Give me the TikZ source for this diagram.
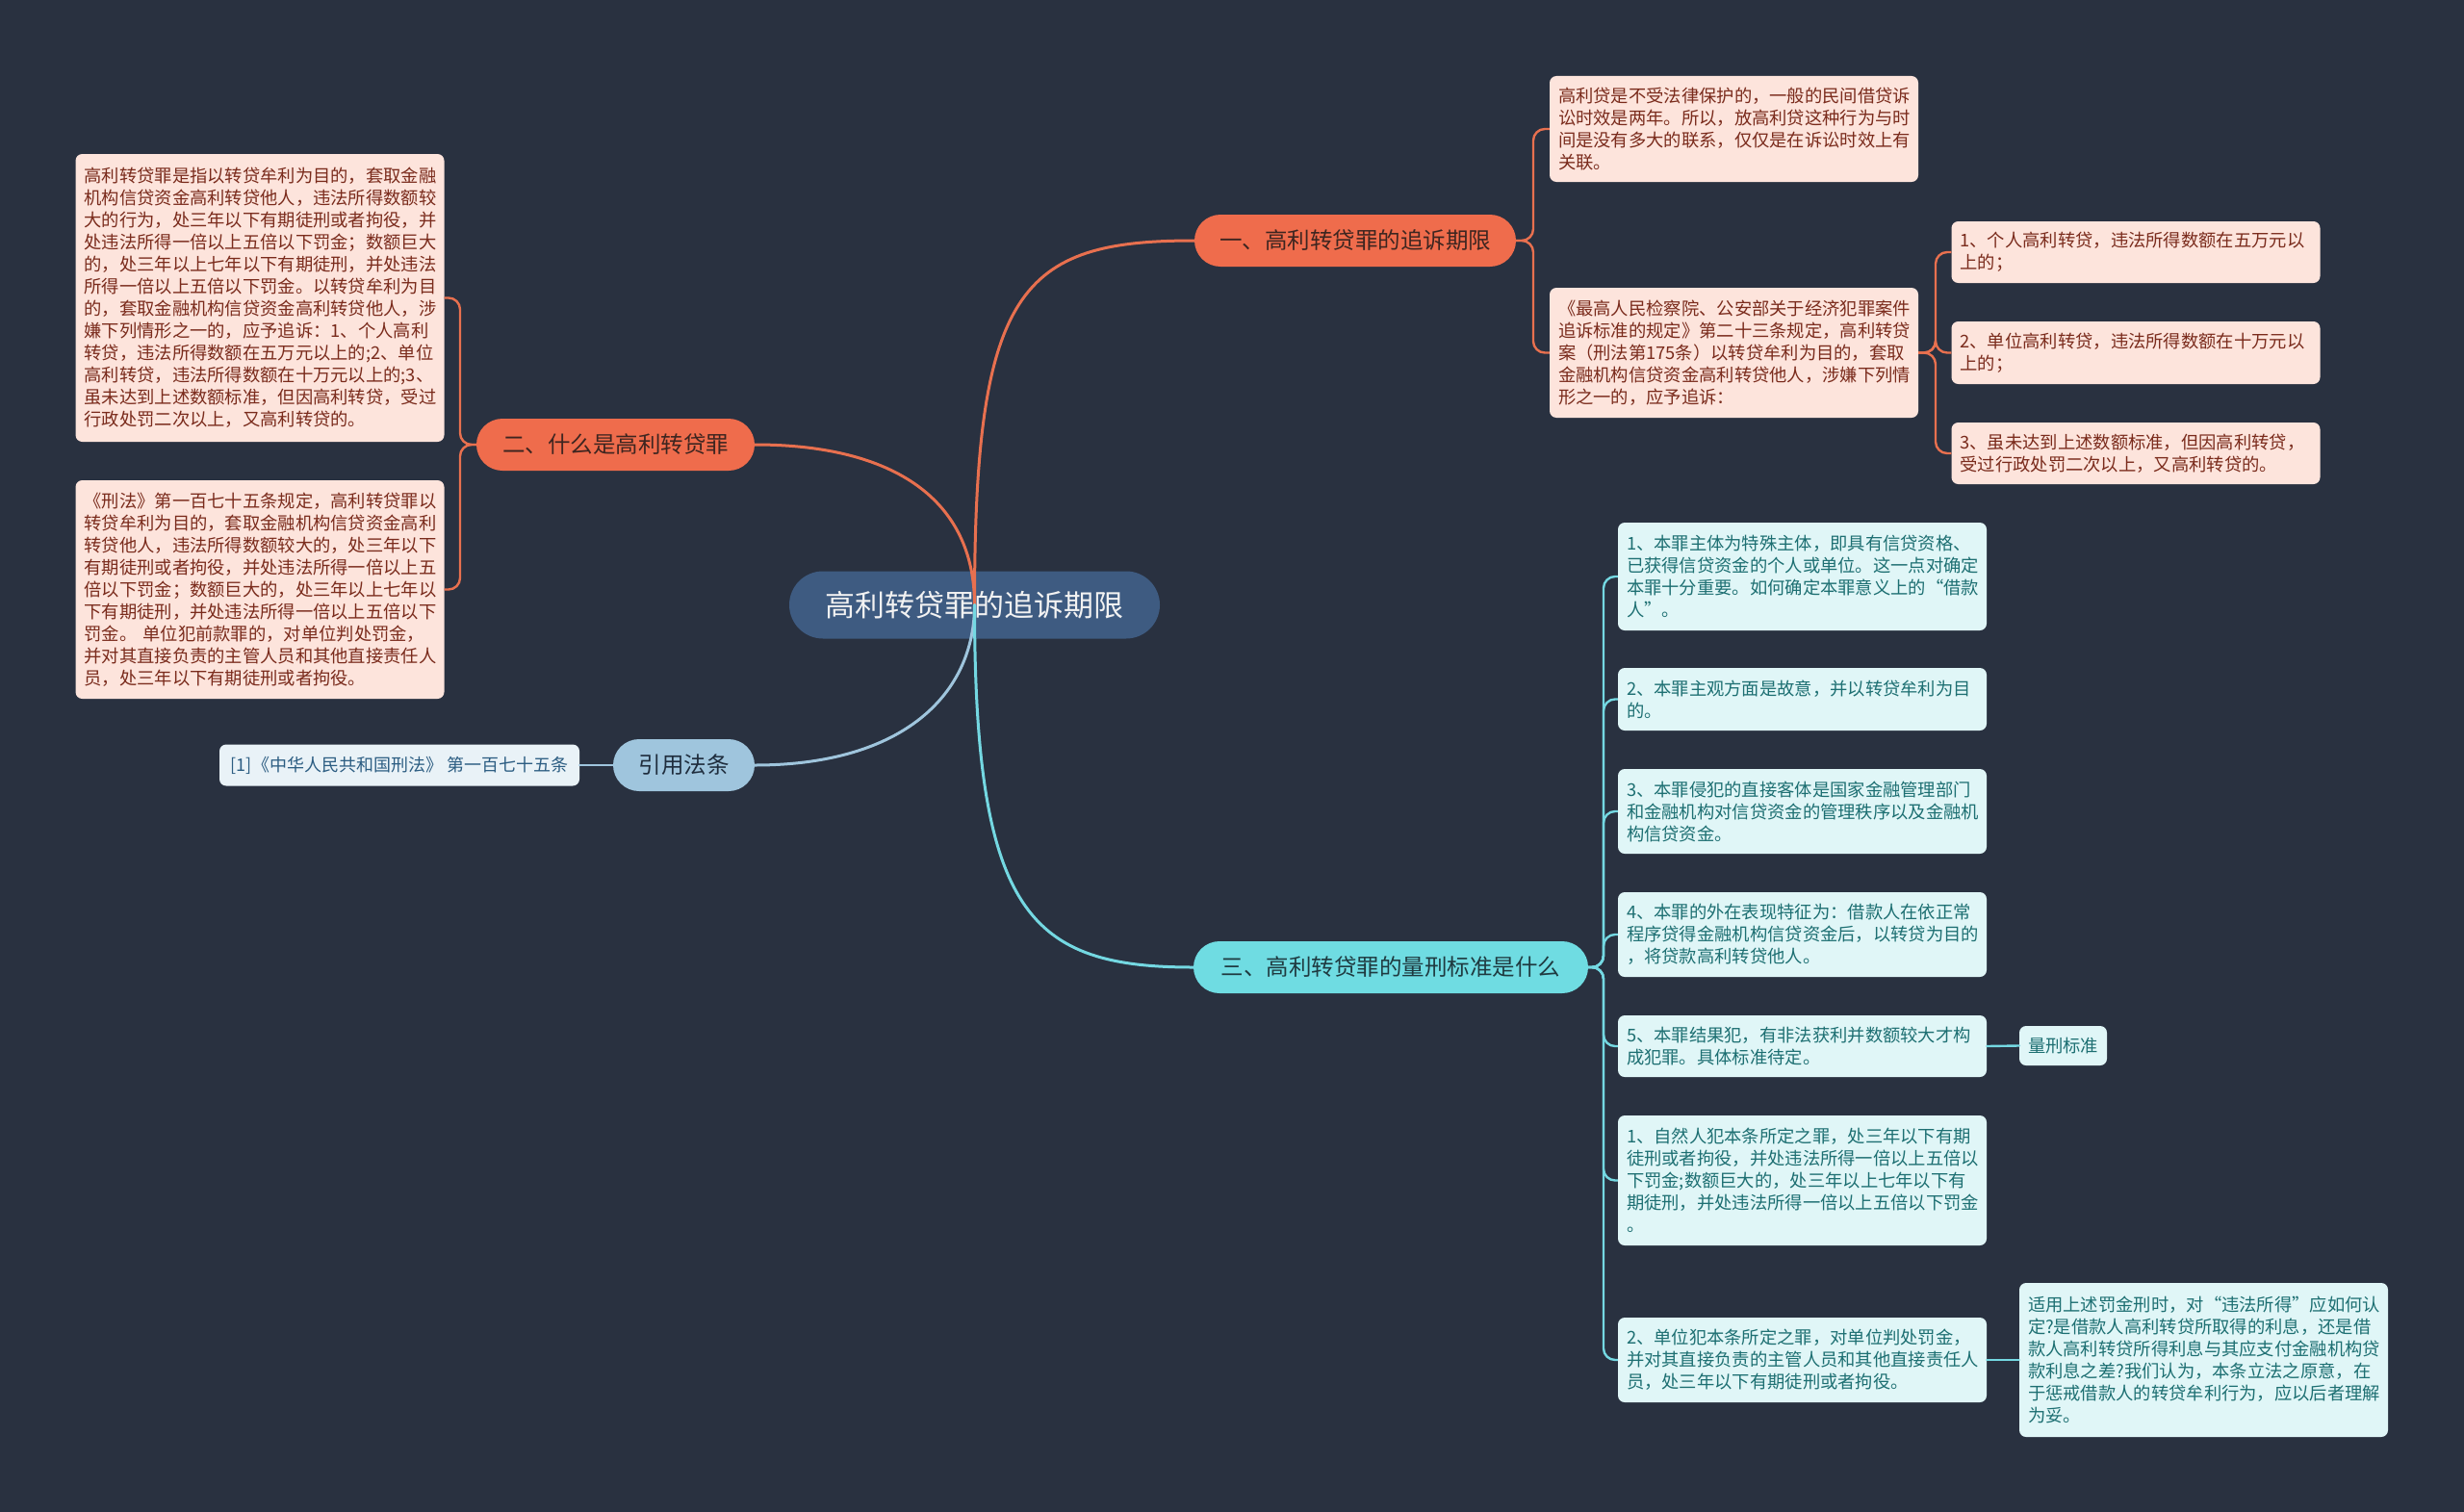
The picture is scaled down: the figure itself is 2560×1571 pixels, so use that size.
\documentclass[tikz,border=0pt]{standalone}
\usepackage{fontspec}
\newfontfamily\cjk{Noto Sans CJK SC}
\definecolor{bgcol}{HTML}{293140}
\definecolor{centfill}{HTML}{3E5B81}
\definecolor{ofill}{HTML}{EF6C4C}
\definecolor{otext}{HTML}{3D2520}
\definecolor{oleaffill}{HTML}{FDE4DC}
\definecolor{oleaftext}{HTML}{7A2B1C}
\definecolor{ocol}{HTML}{E8704F}
\definecolor{cfill}{HTML}{6FDCE2}
\definecolor{ctext}{HTML}{1F3A40}
\definecolor{cleaffill}{HTML}{E0F6F7}
\definecolor{cleaftext}{HTML}{1D6F72}
\definecolor{ccol}{HTML}{74D8E2}
\definecolor{bfill}{HTML}{9FC5DD}
\definecolor{btext}{HTML}{1F2D3D}
\definecolor{bleaffill}{HTML}{E9F2F7}
\definecolor{bleaftext}{HTML}{2C5D82}
\begin{document}
\begin{tikzpicture}[x=1pt,y=-1pt,
  leafbase/.style={rounded corners=7pt, align=left, inner xsep=9pt, inner ysep=0pt,
    text width=365pt, font=\cjk\fontsize{18.3}{23}\selectfont},
  oleaf/.style={leafbase, fill=oleaffill, text=oleaftext, minimum height=#1},
  cleaf/.style={leafbase, fill=cleaffill, text=cleaftext, minimum height=#1},
  pill/.style={rounded corners=27pt, minimum height=54pt, inner xsep=0pt,
    font=\cjk\fontsize{23.5}{28}\selectfont},
  obranch/.style={pill, fill=ofill, text=otext},
  cbranch/.style={pill, fill=cfill, text=ctext},
  bbranch/.style={pill, fill=bfill, text=btext},
  cent/.style={rounded corners=35pt, minimum height=70pt, minimum width=385pt, inner xsep=0pt,
    fill=centfill, text=white!95!black, font=\cjk\fontsize{31}{36}\selectfont},
  ocon/.style={draw=ocol, line width=3pt, line cap=round},
  ccon/.style={draw=ccol, line width=3pt, line cap=round},
  bcon/.style={draw=bfill, line width=3pt, line cap=round},
  osub/.style={draw=ocol, line width=2.4pt, rounded corners=12pt},
  csub/.style={draw=ccol, line width=2.4pt, rounded corners=12pt},
]
\fill[bgcol] (0,0) rectangle (2560,1571);
\useasboundingbox (0,0) rectangle (2560,1571);

% central and branches
\node[cent] (c) at (1012.5,628.5) {高利转贷罪的追诉期限};
\node[obranch, minimum width=334pt] (b1) at (1408,250) {一、高利转贷罪的追诉期限};
\node[obranch, minimum width=289pt] (b2) at (639.5,462) {二、什么是高利转贷罪};
\node[cbranch, minimum width=410pt] (b3) at (1445,1005) {三、高利转贷罪的量刑标准是什么};
\node[bbranch, minimum width=147pt] (b4) at (710.5,795) {引用法条};

% branch 1 leaves
\node[oleaf=110pt] (a1) at (1801.5,134) {高利贷是不受法律保护的，一般的民间借贷诉\\讼时效是两年。所以，放高利贷这种行为与时\\间是没有多大的联系，仅仅是在诉讼时效上有\\关联。};
\node[oleaf=135pt] (a2) at (1801.5,366.5) {《最高人民检察院、公安部关于经济犯罪案件\\追诉标准的规定》第二十三条规定，高利转贷\\案（刑法第175条）以转贷牟利为目的，套取\\金融机构信贷资金高利转贷他人，涉嫌下列情\\形之一的，应予追诉：};
\node[oleaf=64pt] (d1) at (2219,262) {1、个人高利转贷，违法所得数额在五万元以\\上的；};
\node[oleaf=65pt] (d2) at (2219,366.5) {2、单位高利转贷，违法所得数额在十万元以\\上的；};
\node[oleaf=64pt] (d3) at (2219,471) {3、虽未达到上述数额标准，但因高利转贷，\\受过行政处罚二次以上，又高利转贷的。};

% branch 2 leaves
\node[oleaf=299pt] (l1) at (270,309.5) {高利转贷罪是指以转贷牟利为目的，套取金融\\机构信贷资金高利转贷他人，违法所得数额较\\大的行为，处三年以下有期徒刑或者拘役，并\\处违法所得一倍以上五倍以下罚金；数额巨大\\的，处三年以上七年以下有期徒刑，并处违法\\所得一倍以上五倍以下罚金。以转贷牟利为目\\的，套取金融机构信贷资金高利转贷他人，涉\\嫌下列情形之一的，应予追诉：1、个人高利\\转贷，违法所得数额在五万元以上的;2、单位\\高利转贷，违法所得数额在十万元以上的;3、\\虽未达到上述数额标准，但因高利转贷，受过\\行政处罚二次以上，又高利转贷的。};
\node[oleaf=227pt] (l2) at (270,612.5) {《刑法》第一百七十五条规定，高利转贷罪以\\转贷牟利为目的，套取金融机构信贷资金高利\\转贷他人，违法所得数额较大的，处三年以下\\有期徒刑或者拘役，并处违法所得一倍以上五\\倍以下罚金；数额巨大的，处三年以上七年以\\下有期徒刑，并处违法所得一倍以上五倍以下\\罚金。 单位犯前款罪的，对单位判处罚金，\\并对其直接负责的主管人员和其他直接责任人\\员，处三年以下有期徒刑或者拘役。};

% branch 3 leaves
\node[cleaf=112pt] (t1) at (1872.5,599) {1、本罪主体为特殊主体，即具有信贷资格、\\已获得信贷资金的个人或单位。这一点对确定\\本罪十分重要。如何确定本罪意义上的“借款\\人”。};
\node[cleaf=65pt] (t2) at (1872.5,726.5) {2、本罪主观方面是故意，并以转贷牟利为目\\的。};
\node[cleaf=88pt] (t3) at (1872.5,843) {3、本罪侵犯的直接客体是国家金融管理部门\\和金融机构对信贷资金的管理秩序以及金融机\\构信贷资金。};
\node[cleaf=88pt] (t4) at (1872.5,971) {4、本罪的外在表现特征为：借款人在依正常\\程序贷得金融机构信贷资金后，以转贷为目的\\，将贷款高利转贷他人。};
\node[cleaf=64pt] (t5) at (1872.5,1087) {5、本罪结果犯，有非法获利并数额较大才构\\成犯罪。具体标准待定。};
\node[cleaf=135pt] (t6) at (1872.5,1226.5) {1、自然人犯本条所定之罪，处三年以下有期\\徒刑或者拘役，并处违法所得一倍以上五倍以\\下罚金;数额巨大的，处三年以上七年以下有\\期徒刑，并处违法所得一倍以上五倍以下罚金\\。};
\node[cleaf=88pt] (t7) at (1872.5,1413) {2、单位犯本条所定之罪，对单位判处罚金，\\并对其直接负责的主管人员和其他直接责任人\\员，处三年以下有期徒刑或者拘役。};
\node[leafbase, fill=cleaffill, text=cleaftext, text width=73pt, minimum height=41pt, align=center] (r5) at (2143.5,1086.5) {量刑标准};
\node[cleaf=160pt] (n7) at (2289.5,1413) {适用上述罚金刑时，对“违法所得”应如何认\\定?是借款人高利转贷所取得的利息，还是借\\款人高利转贷所得利息与其应支付金融机构贷\\款利息之差?我们认为，本条立法之原意，在\\于惩戒借款人的转贷牟利行为，应以后者理解\\为妥。};

% branch 4 leaf
\node[rounded corners=7pt, fill=bleaffill, text=bleaftext, minimum width=374pt, minimum height=43pt,
  inner xsep=0pt, font=\cjk\fontsize{18}{21}\selectfont] (f1) at (415,795) {[1]《中华人民共和国刑法》 第一百七十五条};

% main connectors
\draw[ocon] (c.center) .. controls (1012.5,300) and (1060,250) .. (b1.west);
\draw[ocon] (b2.east) .. controls (930,462) and (1012.5,520) .. (c.center);
\draw[bcon] (b4.east) .. controls (940,795) and (1012.5,720) .. (c.center);
\draw[ccon] (c.center) .. controls (1012.5,950) and (1070,1005) .. (b3.west);

% branch 1 sub connectors
\draw[osub] (b1.east) -- (1593,250) |- (a1.west);
\draw[osub] (b1.east) -- (1593,250) |- (a2.west);
\draw[osub] (a2.east) -- (2011,366.5) |- (d1.west);
\draw[osub] (a2.east) -- (2011,366.5) |- (d2.west);
\draw[osub] (a2.east) -- (2011,366.5) |- (d3.west);

% branch 2 sub connectors
\draw[osub] (b2.west) -- (478,462) |- (l1.east);
\draw[osub] (b2.west) -- (478,462) |- (l2.east);

% branch 3 sub connectors
\foreach \t in {t1,t2,t3,t4,t5,t6,t7}{
  \draw[csub] (b3.east) -- (1666,1005) |- (\t.west);
}
\draw[ccon, line width=2.4pt] (t5.east) -- (r5.west);
\draw[ccon, line width=2.4pt] (t7.east) -- (n7.west);

% branch 4 connector
\draw[bcon, line width=2.4pt] (b4.west) -- (f1.east);
\end{tikzpicture}
\end{document}
